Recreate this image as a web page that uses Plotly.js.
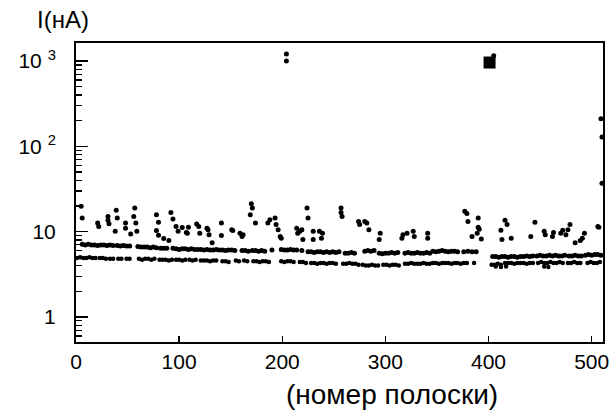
<!DOCTYPE html>
<html>
<head>
<meta charset="utf-8">
<script src="https://cdn.plot.ly/plotly-3.0.1.min.js"></script>
<style>html,body{margin:0;padding:0;background:#fff}#chart{width:610px;height:414px}</style>
</head>
<body>
<div id="chart"></div>
<script>
// Upper dense band (strip number, current in nA)
const bandHiX = [6,9,12,15,18,21,24,27,30,33,36, 40,43,46,49,52, 60,63,66,69,72,75,78, 82,85,88,
  94,97,100,103,106,109,112,115,118, 121,124,127,130,133,136,139,142,145,148,151,154, 161,164,167,
  171,174,177,180,183, 190, 199,202,205,208,211,214, 219, 225,228,231,234,237,240,243,246,249,252,255,
  261,264,267,270, 280,283,286,289, 294,297,300,303,306,309,312, 319,322,325,328,331,334,337,340,343,
  346,349,352,355,358,361,364,367,370, 376,380,384,388,
  404,407,410,413,416,419,422,425,428,431,434,437,440,443, 447,450,453,456,459,462,465,468,471,474,
  478,481,484,487,490, 494,497,500,503,506,509];
const bandHiY = [7.1,7.0,7.1,7.0,7.0,6.9,7.0,7.0,6.9,7.0,6.9, 6.9,6.8,6.9,6.8,6.8, 6.7,6.6,6.6,6.6,6.5,6.6,6.5, 6.4,6.4,6.4,
  6.4,6.3,6.2,6.3,6.3,6.2,6.3,6.2,6.2, 6.2,6.1,6.2,6.1,6.1,6.2,6.1,6.1,6.0,6.1,6.1,6.0, 6.0,6.0,5.9,
  6.0,6.0,5.9,6.0,5.9, 6.1, 6.2,6.1,6.1,6.2,6.1,6.1, 6.0, 5.8,5.8,5.7,5.8,5.8,5.7,5.8,5.7,5.8,5.7,5.8,
  5.6,5.6,5.7,5.6, 5.9,6.0,5.9,6.0, 5.6,5.5,5.6,5.6,5.7,5.6,5.7, 5.6,5.7,5.6,5.6,5.7,5.6,5.6,5.7,5.6,
  5.9,5.8,5.9,6.0,5.9,5.8,5.9,5.9,5.8, 5.8,5.9,5.8,5.8,
  5.1,5.1,5.0,5.1,5.1,5.0,5.1,5.1,5.0,5.1,5.1,5.2,5.1,5.2, 5.2,5.3,5.2,5.2,5.3,5.2,5.3,5.2,5.2,5.3,
  5.2,5.2,5.3,5.2,5.2, 5.3,5.4,5.3,5.4,5.4,5.3];

// Lower dense band
const bandLoX = [1,4,7,10,13,16,19, 23,26,29, 33,36, 41,44, 49,52, 61,64,67,70,73,76, 81,84,87,90,93,
  97,100,103,106, 110,113,116, 121,124,127,130,133,136, 142,145,148, 155,158, 163,166,
  172,175,178,181,184,187, 199,202,205,208,211, 217,220,223, 228,231,234,237,240,243,246,249,252,
  259,262,265,268,271,274, 278,281,284,287,290,293, 298,301,304,307,310,313,
  319,322,325,328,331,334,337,340,343, 346,349,352,355,358,361,364,367,370,373,376,379, 386,
  403,406,409,412, 416,419,422,425,428,431,434,437,440,443, 448,451,454,457,460,463,466,469,472,
  477,480,483,486,489, 496,499,502,505,508, 407,412,417,454,458];
const bandLoY = [4.9,5.0,4.9,4.9,5.0,4.9,4.9, 4.9,4.9,4.8, 4.8,4.8, 4.8,4.8, 4.8,4.8, 4.8,4.7,4.8,4.8,4.7,4.8, 4.7,4.7,4.7,4.6,4.7,
  4.7,4.7,4.6,4.7, 4.7,4.6,4.7, 4.6,4.6,4.6,4.5,4.6,4.6, 4.5,4.5,4.4, 4.6,4.5, 4.6,4.5,
  4.5,4.5,4.4,4.5,4.5,4.4, 4.5,4.4,4.5,4.5,4.4, 4.4,4.4,4.3, 4.3,4.3,4.2,4.3,4.3,4.2,4.3,4.3,4.2,
  4.2,4.2,4.3,4.2,4.2,4.1, 4.1,4.0,4.0,4.1,4.0,4.0, 4.1,4.1,4.0,4.1,4.1,4.0,
  4.2,4.2,4.3,4.2,4.2,4.2,4.3,4.2,4.2, 4.3,4.3,4.2,4.3,4.3,4.3,4.2,4.3,4.3,4.2,4.3,4.3, 4.3,
  4.1,4.1,4.2,4.1, 4.3,4.3,4.3,4.2,4.3,4.3,4.3,4.2,4.3,4.3, 4.3,4.4,4.3,4.3,4.4,4.3,4.3,4.4,4.3,
  4.3,4.3,4.4,4.3,4.3, 4.3,4.4,4.3,4.3,4.4, 3.9,3.85,3.9,3.9,3.85];

// Scattered (noisy) strips
const noisyX = [5,6,21,22,31,31,32,39,40,38,48,48,56,57,58,59,53,78,80,78,80,85,90,92,94,97,99,103,107,109,108,
  117,119,120,127,128,129,132,141,141,151,152,159,161,162,170,171,169,174,
  188,186,193,194,196,198,199,214,215,217,220,219,224,225,230,230,236,238,239,257,257,258,274,275,280,282,284,
  295,294,316,317,321,327,328,341,341,
  377,379,380,390,390,391,389,384,393,416,418,412,413,422,441,445,454,455,463,462,470,472,479,477,475,
  493,491,489,484,506,507];
const noisyY = [19.8,14.5,12.6,11.5,15.1,13.6,12.4,17.8,14.5,10.1,12.6,11.0,15.1,19.0,12.6,10.1,9.4,15.8,12.9,10.3,9.05,8.3,7.9,16.8,14.1,11.5,10.1,11.2,9.8,11.3,9.6,
  12.3,11.5,9.6,11.0,10.5,9.2,7.4,12.6,9.0,10.5,10.3,9.6,8.8,9.2,21.3,19.0,15.8,12.6,
  13.8,12.6,14.5,12.1,10.5,8.8,8.4,11.0,9.6,10.1,8.1,10.5,19.0,14.5,10.1,8.1,10.1,8.4,9.6,19.0,16.8,15.1,13.2,12.1,13.2,12.6,10.5,
  9.6,8.1,8.4,9.2,9.6,10.1,8.8,9.6,8.4,
  17.3,16.3,13.2,14.5,11.3,10.7,9.6,8.8,8.2,13.6,12.1,10.4,8.1,8.4,8.8,12.9,10.1,9.2,9.8,8.8,9.6,10.4,12.1,10.5,9.2,
  9.6,8.4,7.9,7.4,11.5,11.3];

// Outliers far above the bands
const highX = [204,204,405,509,510,510];
const highY = [1210,1000,1150,210,129,37];
const blobX = [401];
const blobY = [960];

const xTicks = [0,100,200,300,400,500];
const yTicks = [1,10,100,1000];
const yTickText = ['1','10','10 <sup>2</sup>','10 <sup>3</sup>'];
const yMinor = [0.6,0.7,0.8,0.9,2,3,4,5,6,7,8,9,20,30,40,50,60,70,80,90,200,300,400,500,600,700,800,900];

const mk = (x, y, size, symbol) => ({
  x: x, y: y, type: 'scatter', mode: 'markers', cliponaxis: false, hoverinfo: 'skip',
  marker: {color: '#000', size: size, symbol: symbol || 'circle', line: {width: 0}}
});

const data = [
  mk(bandHiX, bandHiY, 5),
  mk(bandLoX, bandLoY, 4.5),
  mk(noisyX, noisyY, 5),
  mk(highX, highY, 5),
  mk(blobX, blobY, 12, 'square')
];

const FONT = 'Liberation Sans, Arial, sans-serif';
const layout = {
  width: 610, height: 414,
  margin: {l: 76, r: 7, t: 43, b: 72, pad: 0},
  paper_bgcolor: '#fff', plot_bgcolor: '#fff',
  showlegend: false,
  font: {family: FONT, color: '#000'},
  xaxis: {
    range: [0, 511], tickmode: 'array', tickvals: xTicks,
    ticks: 'inside', ticklen: 6, tickwidth: 1.5, tickcolor: '#000',
    showline: true, linewidth: 2, linecolor: '#000', mirror: true,
    showgrid: false, zeroline: false,
    tickfont: {family: FONT, size: 21, color: '#000'}
  },
  yaxis: {
    type: 'log', range: [-0.293, 3.211], tickmode: 'array', tickvals: yTicks, ticktext: yTickText,
    ticks: 'inside', ticklen: 12, tickwidth: 1.5, tickcolor: '#000', ticklabelstandoff: 14,
    minor: {tickmode: 'array', tickvals: yMinor, ticks: 'inside', ticklen: 6, tickwidth: 1.2, tickcolor: '#000', showgrid: false},
    showline: true, linewidth: 2, linecolor: '#000', mirror: true,
    showgrid: false, zeroline: false,
    tickfont: {family: FONT, size: 21, color: '#000'}
  },
  annotations: [
    {text: 'I(нА)', xref: 'paper', yref: 'paper', x: -0.025, y: 1.08, xanchor: 'center', yanchor: 'middle',
     showarrow: false, font: {family: FONT, size: 24, color: '#000'}},
    {text: '(номер полоски)', xref: 'paper', yref: 'paper', x: 0.6, y: -0.175, xanchor: 'center', yanchor: 'middle',
     showarrow: false, font: {family: FONT, size: 28, color: '#000'}}
  ]
};

Plotly.newPlot('chart', data, layout, {staticPlot: true, displayModeBar: false});
</script>
</body>
</html>
